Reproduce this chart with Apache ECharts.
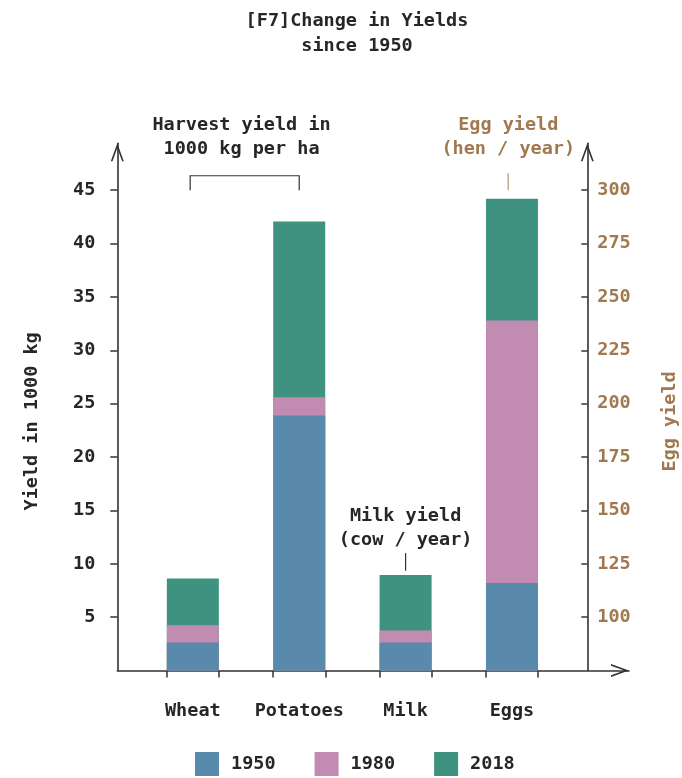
<!DOCTYPE html>
<html>
<head>
<meta charset="utf-8">
<script src="https://cdn.jsdelivr.net/npm/echarts@6/dist/echarts.min.js"></script>
<style>
  html, body { margin: 0; padding: 0; background: #ffffff; }
  #chart { width: 682px; height: 778px; }
</style>
</head>
<body>
<div id="chart"></div>
<script>
// Categories on the x axis
const categories = ['Wheat', 'Potatoes', 'Milk', 'Eggs'];
const years = ['1950', '1980', '2018'];

// Wheat and potatoes: 1000 kg per ha; milk: 1000 kg per cow and year
const crops1950 = [2.62, 23.89, 2.62];
const crops1980 = [4.24, 25.6, 3.75];
const crops2018 = [8.62, 42.06, 8.95];

// Eggs per hen and year, for 1950, 1980, 2018
const eggYield = [116, 239, 296];

// Tick labels
const yieldTicks = [5, 10, 15, 20, 25, 30, 35, 40, 45];
const eggTicks = [100, 125, 150, 175, 200, 225, 250, 275, 300];

const FONT = 'DejaVu Sans Mono';
const FS = 18.5;
const INK = '#262626';
const AXIS = '#333333';
const BROWN = '#a07a4e';
const COLORS = { '1950': '#5a8aab', '1980': '#c18bb2', '2018': '#3f927f' };

// open chevron used as the arrow head on every axis (tip at the top)
const CHEVRON = 'path://M6.5,0 L13,18 L11.3,18 L6.5,4.7 L1.7,18 L0,18 Z';
const BAR_W = 52;
const BAR_HALF = 0.246; // half bar width in category units

const axisLineStyle = { color: AXIS, width: 1.6 };
const arrowLine = {
  show: true,
  onZero: false,
  symbol: ['none', CHEVRON],
  symbolSize: [13, 18],
  symbolOffset: [0, -9],
  lineStyle: axisLineStyle
};
const textBase = { fontFamily: FONT, fontSize: FS, fontWeight: 'bold' };

function bar(name, data, yAxisIndex) {
  return {
    type: 'bar',
    name: name,
    yAxisIndex: yAxisIndex,
    data: data,
    barWidth: BAR_W,
    barGap: '-100%',
    itemStyle: { color: COLORS[name] },
    emphasis: { disabled: true },
    animation: false
  };
}

const cropData = { '1950': crops1950, '1980': crops1980, '2018': crops2018 };
const series = [];
// taller totals go first so the earlier years sit on top of them
['2018', '1980', '1950'].forEach(function (y) {
  series.push(bar(y, cropData[y].map(function (v, i) { return [i, v]; }), 0));
});
['2018', '1980', '1950'].forEach(function (y) {
  series.push(bar(y, [[3, eggYield[years.indexOf(y)]]], 1));
});

const barEdges = [];
categories.forEach(function (c, i) { barEdges.push(i - BAR_HALF, i + BAR_HALF); });

const chart = echarts.init(document.getElementById('chart'), null, { renderer: 'canvas' });

chart.setOption({
  animation: false,
  backgroundColor: '#ffffff',
  title: {
    text: '[F7]Change in Yields\nsince 1950',
    left: 352,
    top: 4,
    textAlign: 'center',
    textStyle: Object.assign({ color: INK, lineHeight: 25 }, textBase)
  },
  legend: {
    data: years,
    left: 195,
    top: 752,
    padding: 0,
    icon: 'rect',
    itemWidth: 24,
    itemHeight: 24,
    itemGap: 39,
    selectedMode: false,
    textStyle: Object.assign({ color: INK, padding: [0, 0, 0, 7] }, textBase)
  },
  grid: {
    left: 117.3,
    right: 53,
    top: 143.3,
    bottom: 107.5,
    containLabel: false,
    outerBoundsMode: 'none'
  },
  xAxis: {
    type: 'value',
    min: -0.71,
    max: 4.1,
    axisLine: arrowLine,
    axisTick: {
      show: true,
      customValues: barEdges,
      length: 7,
      lineStyle: { color: AXIS, width: 1.5 }
    },
    axisLabel: Object.assign({
      customValues: [0, 1, 2, 3],
      formatter: function (v) { return categories[Math.round(v)]; },
      margin: 31,
      color: INK
    }, textBase),
    splitLine: { show: false }
  },
  yAxis: [
    {
      type: 'value',
      position: 'left',
      min: 0,
      max: 49.39,
      interval: 5,
      axisLine: arrowLine,
      axisTick: {
        show: true,
        customValues: yieldTicks,
        length: 7,
        lineStyle: { color: AXIS, width: 1.5 }
      },
      axisLabel: Object.assign({ customValues: yieldTicks, margin: 22, color: INK }, textBase),
      splitLine: { show: false },
      name: 'Yield in 1000 kg',
      nameLocation: 'middle',
      nameRotate: 90,
      nameGap: 76,
      nameTextStyle: Object.assign({ color: INK, padding: [0, 29, 0, 0] }, textBase)
    },
    {
      type: 'value',
      position: 'right',
      offset: -41.7,
      min: 75,
      max: 321.95,
      interval: 25,
      axisLine: arrowLine,
      axisTick: {
        show: true,
        inside: true,
        customValues: eggTicks,
        length: 6,
        lineStyle: { color: AXIS, width: 1.5 }
      },
      axisLabel: Object.assign({ customValues: eggTicks, margin: 10, color: BROWN }, textBase),
      splitLine: { show: false },
      name: 'Egg yield',
      nameLocation: 'middle',
      nameRotate: 90,
      nameGap: 73.5,
      nameTextStyle: Object.assign({ color: BROWN, padding: [0, 29, 0, 0] }, textBase)
    }
  ],
  series: series
});

// Annotations placed in axis units and converted through the grid
function px(x, y) {
  return chart.convertToPixel({ xAxisIndex: 0, yAxisIndex: 0 }, [x, y]);
}
function label(text, x, y, color) {
  const p = px(x, y);
  return {
    type: 'text',
    silent: true,
    style: {
      text: text,
      x: p[0],
      y: p[1],
      align: 'center',
      verticalAlign: 'middle',
      fill: color,
      fontFamily: FONT,
      fontSize: FS,
      fontWeight: 'bold',
      lineHeight: 24.4
    }
  };
}
function polyline(points, color, width) {
  return {
    type: 'polyline',
    silent: true,
    shape: { points: points.map(function (q) { return px(q[0], q[1]); }) },
    style: { stroke: color, lineWidth: width, fill: null }
  };
}

chart.setOption({
  graphic: [
    polyline([[-0.025, 45], [-0.025, 46.35], [1, 46.35], [1, 45]], AXIS, 1.2),
    label('Harvest yield in\n1000 kg per ha', 0.458, 49.98, INK),
    polyline([[2, 9.35], [2, 11.0]], AXIS, 1.2),
    label('Milk yield\n(cow / year)', 2, 13.31, INK),
    polyline([[2.965, 45], [2.965, 46.58]], '#c9a98a', 1.5),
    label('Egg yield\n(hen / year)', 2.965, 49.98, BROWN)
  ]
});
</script>
</body>
</html>
